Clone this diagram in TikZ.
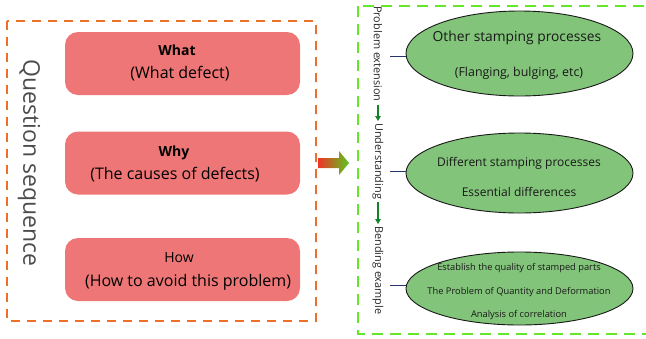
\documentclass[tikz,border=0pt]{standalone}
\usepackage{fontspec}
\setmainfont{Open Sans}
\usetikzlibrary{shapes.geometric,arrows.meta}
\definecolor{boxred}{RGB}{239,118,118}
\definecolor{dashorange}{RGB}{237,112,40}
\definecolor{dashgreen}{RGB}{102,230,40}
\definecolor{ellgreen}{RGB}{130,196,122}
\definecolor{linkblue}{RGB}{40,50,110}
\definecolor{arrgreen}{RGB}{20,130,40}
\definecolor{gradred}{RGB}{240,50,40}
\definecolor{gradgreen}{RGB}{90,200,30}
\tikzset{
  qbox/.style={draw=none,fill=boxred,rounded corners=13pt,minimum width=235pt,minimum height=63pt,inner sep=0pt},
  qtxt/.style={inner sep=0pt,anchor=mid,font=\fontsize{16}{18}\selectfont},
  qhead/.style={inner sep=0pt,anchor=mid,font=\fontsize{14}{16}\selectfont},
  ell/.style={ellipse,draw=black!90,line width=0.9pt,fill=ellgreen,minimum width=227pt,inner sep=0pt},
  etxt/.style={inner sep=0pt,anchor=mid,text=black!90},
  vlabel/.style={rotate=-90,inner sep=0pt,font=\fontsize{10.9}{12}\selectfont,text=black!85},
  link/.style={draw=linkblue,line width=0.9pt},
  smallarr/.style={draw=arrgreen,line width=2.2pt,-{Triangle[width=5.5pt,length=5pt]}}
}
\begin{document}
\begin{tikzpicture}[x=1pt,y=-1pt]
\useasboundingbox (0,0) rectangle (646,338);
% dashed frames
\draw[dashorange,line width=1.2pt,dash pattern=on 9pt off 7pt] (7,21) rectangle (316,321);
\draw[dashgreen,line width=1.2pt,dash pattern=on 11pt off 7pt] (358,6) rectangle (650,334);
% left column
\node[rotate=-90,font=\fontsize{23}{25}\selectfont,text=black!70] (qs) at (29,163) {Question sequence};
\node[qbox] (what) at (182.5,63.5) {};
\node[qhead] (whath) at (177,53) {\textbf{What}};
\node[qtxt] (whatt) at (180,76) {(What defect)};
\node[qbox] (why) at (182.5,163) {};
\node[qhead] (whyh) at (174,154) {\textbf{Why}};
\node[qtxt] (whyt) at (175,177) {(The causes of defects)};
\node[qbox] (how) at (182.5,269.5) {};
\node[qhead] (howh) at (179,260) {How};
\node[qtxt] (howt) at (188,284) {(How to avoid this problem)};
% gradient arrow
\shade[left color=gradred,right color=gradgreen] (318,158) -- (339,158) -- (339,151) -- (349,163) -- (339,175) -- (339,168) -- (318,168) -- cycle;
% vertical labels
\node[vlabel,anchor=west] (pe) at (378,6) {Problem extension};
\node[vlabel,anchor=west] (un) at (378,123) {Understanding};
\node[vlabel,anchor=west] (be) at (378,226) {Bending example};
\draw[smallarr] ([yshift=-3pt]pe.east) -- ([yshift=2pt]un.west);
\draw[smallarr] ([yshift=-3pt]un.east) -- ([yshift=2pt]be.west);
% ellipses
\node[ell,minimum height=85pt] (e1) at (519.5,53.5) {};
\node[etxt,font=\fontsize{13.8}{15}\selectfont] (e1a) at (517,38.5) {Other stamping processes};
\node[etxt,font=\fontsize{12.4}{14}\selectfont] (e1b) at (519,74) {(Flanging, bulging, etc)};
\node[ell,minimum height=80pt] (e2) at (519.5,173) {};
\node[etxt,font=\fontsize{12}{14}\selectfont] (e2a) at (519,164) {Different stamping processes};
\node[etxt,font=\fontsize{12}{14}\selectfont] (e2b) at (519,194) {Essential differences};
\node[ell,minimum height=73pt] (e3) at (519.5,288.5) {};
\node[etxt,font=\fontsize{9.3}{11}\selectfont] (e3a) at (519,267.5) {Establish the quality of stamped parts};
\node[etxt,font=\fontsize{9.3}{11}\selectfont] (e3b) at (519,291.5) {The Problem of Quantity and Deformation};
\node[etxt,font=\fontsize{9.3}{11}\selectfont] (e3c) at (519,314.5) {Analysis of correlation};
% connectors
\coordinate (c1) at (390,56);
\coordinate (c2) at (390,171);
\coordinate (c3) at (390,285);
\draw[link] (c1) -- (e1.west |- c1);
\draw[link] (c2) -- (e2.west |- c2);
\draw[link] (c3) -- (e3.west |- c3);
\end{tikzpicture}
\end{document}
